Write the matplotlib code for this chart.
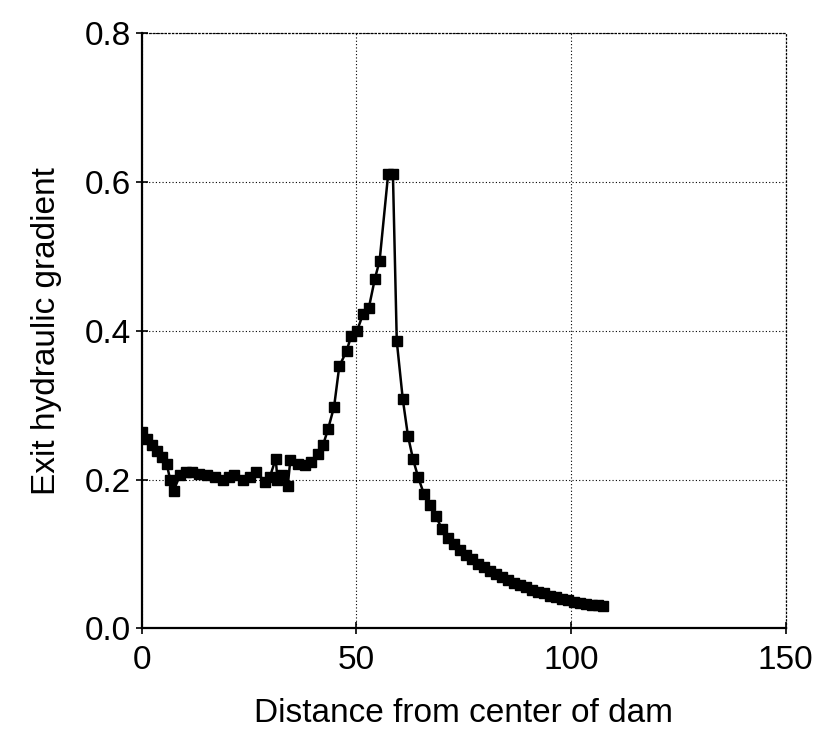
import matplotlib
matplotlib.use('Agg')
import matplotlib.pyplot as plt

# distance from center of dam
distance = [0.0, 1.2, 2.3, 3.5, 4.7, 5.8, 6.6, 7.4, 8.9, 10.3, 11.8, 13.3,
            15.1, 17.0, 19.0, 20.3, 21.5, 23.6, 25.2, 26.7, 28.7, 29.8,
            31.2, 31.6, 32.6, 34.0, 34.6, 36.4, 38.0, 39.5, 41.1, 42.2,
            43.4, 44.8, 46.0, 47.7, 48.8, 50.1, 51.5, 52.9, 54.3, 55.4,
            57.4, 58.5, 59.4, 60.8, 62.0, 63.2, 64.4, 65.7, 67.1, 68.5,
            69.9, 71.3, 72.7, 74.1, 75.5, 76.9, 78.3, 79.7, 81.1, 82.5,
            83.9, 85.3, 86.7, 88.1, 89.5, 90.9, 92.3, 93.7, 95.1, 96.5,
            97.9, 99.3, 100.7, 102.1, 103.5, 104.9, 106.3, 107.5]

# exit hydraulic gradient
gradient = [0.264, 0.255, 0.246, 0.239, 0.230, 0.221, 0.200, 0.185, 0.206, 0.210, 0.210, 0.208,
            0.206, 0.203, 0.199, 0.203, 0.206, 0.199, 0.203, 0.210, 0.197, 0.203,
            0.228, 0.200, 0.206, 0.192, 0.226, 0.221, 0.219, 0.224, 0.235, 0.246,
            0.268, 0.298, 0.352, 0.373, 0.393, 0.399, 0.422, 0.431, 0.470, 0.494,
            0.611, 0.611, 0.386, 0.308, 0.259, 0.227, 0.203, 0.181, 0.166, 0.151,
            0.134, 0.122, 0.114, 0.106, 0.099, 0.093, 0.087, 0.082, 0.077, 0.073,
            0.069, 0.065, 0.061, 0.058, 0.055, 0.052, 0.049, 0.047, 0.044, 0.042,
            0.040, 0.038, 0.036, 0.034, 0.033, 0.032, 0.031, 0.030]

x_ticks = [0, 50, 100, 150]
y_ticks = [0.0, 0.2, 0.4, 0.6, 0.8]

plt.rcParams['font.family'] = ['Liberation Sans', 'DejaVu Sans']
FONT_SIZE = 24

fig = plt.figure(figsize=(8.15, 7.35), dpi=100)
ax = fig.add_axes([0.174, 0.145, 0.79, 0.81])

ax.plot(distance, gradient, color='black', lw=1.8, marker='s', ms=7.5,
        mfc='black', mec='black', zorder=3)

ax.set_xlim(0, 150)
ax.set_ylim(0, 0.8)
ax.set_xticks(x_ticks)
ax.set_yticks(y_ticks)
ax.set_xticklabels([str(t) for t in x_ticks])
ax.set_yticklabels([f'{t:.1f}' for t in y_ticks])

ax.grid(True, color='black', linestyle=(0, (1, 2)), lw=0.8)
for side in ['top', 'right']:
    ax.spines[side].set_linestyle((0, (1, 2)))
    ax.spines[side].set_linewidth(0.9)
for side in ['left', 'bottom']:
    ax.spines[side].set_linewidth(1.6)

ax.tick_params(axis='both', direction='inout', length=8, width=1.2,
               labelsize=FONT_SIZE)
ax.tick_params(axis='x', pad=8)
ax.tick_params(axis='y', pad=4)

ax.set_xlabel('Distance from center of dam', fontsize=FONT_SIZE, labelpad=16)
ax.set_ylabel('Exit hydraulic gradient', fontsize=FONT_SIZE, labelpad=16)

fig.savefig('out.png', dpi=100)
